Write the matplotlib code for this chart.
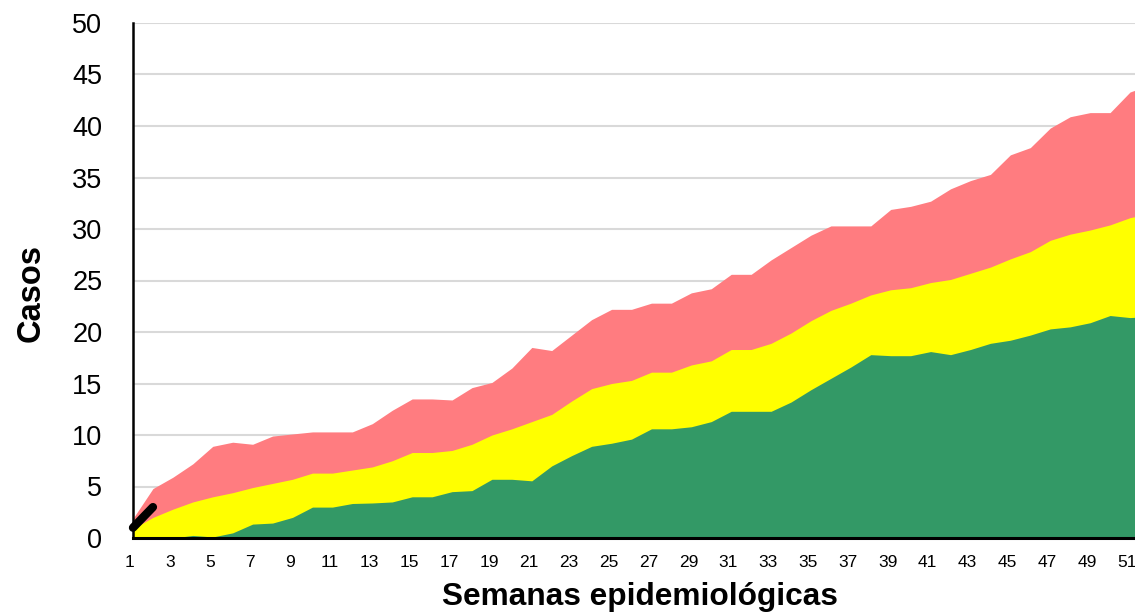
import matplotlib.pyplot as plt
import matplotlib.transforms as mtransforms
import numpy as np

plt.rcParams['font.family'] = ['Liberation Sans', 'DejaVu Sans']

# epidemic channel, cumulative cases per epidemiological week
semanas = np.arange(1, 53)
exito = [0, 0, 0, 0.25, 0.1, 0.5, 1.35, 1.45, 2.0, 3.0,
         3.0, 3.35, 3.4, 3.5, 4.0, 4.0, 4.5, 4.6, 5.7, 5.7,
         5.55, 7.0, 8.0, 8.9, 9.2, 9.6, 10.6, 10.6, 10.8, 11.3,
         12.3, 12.3, 12.3, 13.2, 14.4, 15.5, 16.6, 17.8, 17.7, 17.7,
         18.1, 17.8, 18.3, 18.9, 19.2, 19.7, 20.3, 20.5, 20.9, 21.6,
         21.4, 21.5]
seguridad = [0.9, 2.0, 2.8, 3.5, 4.0, 4.4, 4.9, 5.3, 5.7, 6.3,
             6.3, 6.6, 6.9, 7.5, 8.3, 8.3, 8.5, 9.1, 10.0, 10.6,
             11.3, 12.0, 13.3, 14.5, 15.0, 15.3, 16.1, 16.1, 16.8, 17.2,
             18.3, 18.3, 18.9, 19.9, 21.1, 22.1, 22.8, 23.6, 24.1, 24.3,
             24.8, 25.1, 25.7, 26.3, 27.1, 27.8, 28.9, 29.5, 29.9, 30.4,
             31.1, 31.5]
alarma = [1.9, 4.8, 5.9, 7.2, 8.9, 9.3, 9.1, 9.9, 10.1, 10.3,
          10.3, 10.3, 11.1, 12.4, 13.5, 13.5, 13.4, 14.6, 15.1, 16.5,
          18.5, 18.2, 19.7, 21.2, 22.2, 22.2, 22.8, 22.8, 23.8, 24.2,
          25.6, 25.6, 27.0, 28.2, 29.4, 30.3, 30.3, 30.3, 31.9, 32.2,
          32.7, 33.9, 34.7, 35.3, 37.2, 37.9, 39.8, 40.9, 41.3, 41.3,
          43.3, 44.0]
actual = [1.0, 3.0]

fig = plt.figure(figsize=(11.35, 6.16), dpi=100)
ax = fig.add_axes([133/1135, 78/616, 1 - 133/1135, (538 - 23)/616])

ax.fill_between(semanas, 0, alarma, color='#FF7C80', lw=0, zorder=2)
ax.fill_between(semanas, 0, seguridad, color='#FFFF00', lw=0, zorder=3)
ax.fill_between(semanas, 0, exito, color='#339966', lw=0, zorder=4)
ax.plot(semanas[:len(actual)], actual, color='black', lw=6,
        solid_capstyle='round', zorder=6, clip_on=False)

ax.set_xlim(1, 51.25)
ax.set_ylim(0, 50)
ax.set_yticks(np.arange(0, 51, 5))
ax.set_xticks(semanas[::2][:26])
ax.tick_params(axis='y', length=0, pad=22, labelsize=19.5)
ax.tick_params(axis='x', length=0, pad=12, labelsize=12.5)
ax.grid(axis='y', color='#d9d9d9', lw=1.5, zorder=1)
ax.set_axisbelow(True)

# week labels sit slightly left of their tick
shift = mtransforms.ScaledTranslation(-3/100, 0, fig.dpi_scale_trans)
for lbl in ax.get_xticklabels():
    lbl.set_transform(lbl.get_transform() + shift)

for s in ['top', 'right']:
    ax.spines[s].set_visible(False)
ax.spines['left'].set_linewidth(1.8)
ax.spines['bottom'].set_linewidth(2.2)
ax.spines['left'].set_zorder(7)
ax.spines['bottom'].set_zorder(7)

ax.set_ylabel('Casos', fontsize=23.5, fontweight='bold')
ax.set_xlabel('Semanas epidemiológicas', fontsize=22.8, fontweight='bold')
ax.yaxis.set_label_coords(-0.086, 0.475)
ax.xaxis.set_label_coords(0.5055, -0.085)

fig.savefig('out.png', dpi=100)
